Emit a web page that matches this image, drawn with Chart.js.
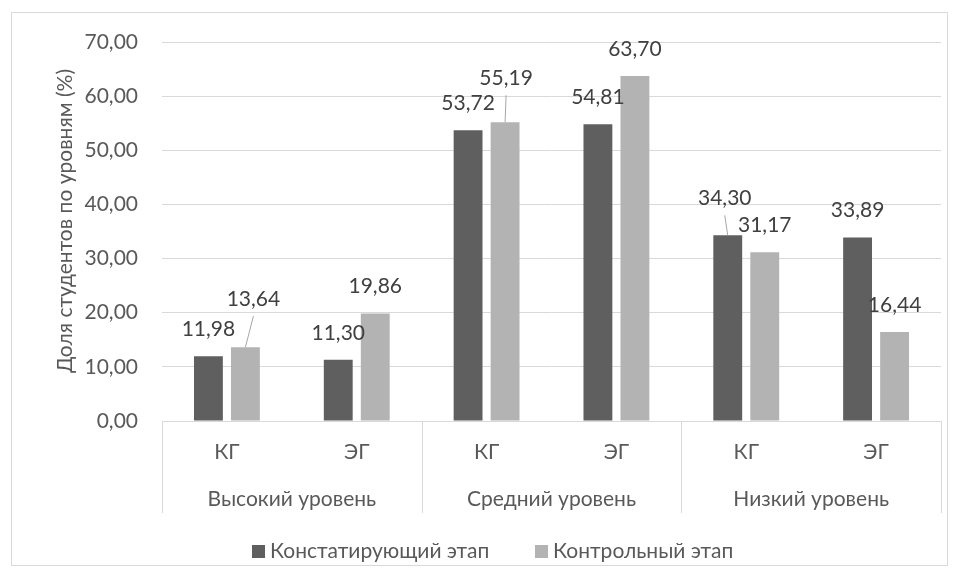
<!DOCTYPE html>
<html>
<head>
<meta charset="utf-8">
<script src="https://cdn.jsdelivr.net/npm/chart.js@4.4.1/dist/chart.umd.min.js"></script>
<style>
  html, body { margin: 0; padding: 0; background: #fff; }
  #wrap { width: 959px; height: 578px; position: relative; }
</style>
</head>
<body>
<div id="wrap"><canvas id="myChart"></canvas></div>
<script>
  const categories = ['КГ', 'ЭГ', 'КГ', 'ЭГ', 'КГ', 'ЭГ'];
  const groups = ['Высокий уровень', 'Средний уровень', 'Низкий уровень'];
  const seriesNames = ['Констатирующий этап', 'Контрольный этап'];
  const ascertainingStage = [11.98, 11.30, 53.72, 54.81, 34.30, 33.89];
  const controlStage = [13.64, 19.86, 55.19, 63.70, 31.17, 16.44];
  const yMax = 70;
  const yStep = 10;

  const FONT = 'Lato, "Noto Sans", sans-serif';
  const TEXT = '#595959';
  const LABEL = '#404040';
  const LINE = '#d9d9d9';
  const colors = ['#5f5f5f', '#b3b3b3'];

  function fmt(v) {
    return v.toFixed(2).replace('.', ',');
  }

  // labels that Excel pushed aside get a leader line (dataset, index, dx, dy)
  const movedLabels = [
    { ds: 1, i: 0, dx: 8, dy: -48 },
    { ds: 1, i: 2, dx: 1, dy: -44 },
    { ds: 0, i: 4, dx: -3, dy: -37 }
  ];

  const extras = {
    id: 'extras',
    afterDraw(chart) {
      const ctx = chart.ctx;
      const x = chart.scales.x;
      const area = chart.chartArea;
      ctx.save();

      // chart border
      ctx.strokeStyle = LINE;
      ctx.lineWidth = 1;
      ctx.strokeRect(11.5, 12.5, 936, 553);

      // two level category axis
      const per = categories.length / groups.length;
      const half = (x.getPixelForValue(1) - x.getPixelForValue(0)) / 2;
      ctx.beginPath();
      for (let g = 0; g <= groups.length; g++) {
        const px = g < groups.length
          ? x.getPixelForValue(g * per) - half
          : x.getPixelForValue(categories.length - 1) + half;
        ctx.moveTo(Math.round(px) + 0.5, area.bottom);
        ctx.lineTo(Math.round(px) + 0.5, area.bottom + 92);
      }
      ctx.stroke();

      ctx.fillStyle = TEXT;
      ctx.font = '21px ' + FONT;
      ctx.textAlign = 'center';
      ctx.textBaseline = 'middle';
      categories.forEach((c, i) => {
        ctx.fillText(c, x.getPixelForValue(i), area.bottom + 31);
      });
      groups.forEach((g, k) => {
        const a = x.getPixelForValue(k * per);
        const b = x.getPixelForValue(k * per + per - 1);
        ctx.fillText(g, (a + b) / 2, area.bottom + 78);
      });

      // data labels
      ctx.fillStyle = LABEL;
      chart.data.datasets.forEach((ds, d) => {
        const meta = chart.getDatasetMeta(d);
        meta.data.forEach((bar, i) => {
          const mv = movedLabels.find(m => m.ds === d && m.i === i);
          const dx = mv ? mv.dx : 0;
          const dy = mv ? mv.dy : -27;
          const lx = bar.x + dx;
          const ly = bar.y + dy;
          if (mv) {
            ctx.strokeStyle = '#a6a6a6';
            ctx.beginPath();
            ctx.moveTo(bar.x, bar.y);
            ctx.lineTo(lx, ly + 17);
            ctx.stroke();
          }
          ctx.fillText(fmt(ds.data[i]), lx, ly);
        });
      });

      // legend
      ctx.textAlign = 'left';
      const legendX = [252, 535];
      seriesNames.forEach((name, s) => {
        ctx.fillStyle = colors[s];
        ctx.fillRect(legendX[s], 545, 13, 13);
        ctx.fillStyle = TEXT;
        ctx.fillText(name, legendX[s] + 18, 551);
      });

      // y axis title
      ctx.save();
      ctx.translate(65, 221);
      ctx.rotate(-Math.PI / 2);
      ctx.textAlign = 'center';
      ctx.fillStyle = TEXT;
      ctx.fillText('Доля студентов по уровням (%)', 0, 0);
      ctx.restore();

      ctx.restore();
    }
  };

  const ctx = document.getElementById('myChart').getContext('2d');
  const myChart = new Chart(ctx, {
    type: 'bar',
    data: {
      labels: categories,
      datasets: [
        { label: seriesNames[0], data: ascertainingStage, backgroundColor: colors[0] },
        { label: seriesNames[1], data: controlStage, backgroundColor: colors[1] }
      ]
    },
    options: {
      responsive: true,
      maintainAspectRatio: false,
      animation: false,
      devicePixelRatio: 1,
      layout: { padding: { top: 42, right: 18, left: 0, bottom: 0 } },
      plugins: {
        legend: { display: false },
        tooltip: { enabled: false }
      },
      datasets: {
        bar: { categoryPercentage: 0.57, barPercentage: 0.78 }
      },
      scales: {
        x: {
          grid: { display: false },
          border: { display: true, color: LINE },
          ticks: { display: false },
          afterFit(scale) { scale.height = 157; }
        },
        y: {
          min: 0,
          max: yMax,
          ticks: {
            stepSize: yStep,
            padding: 24,
            color: TEXT,
            font: { family: FONT, size: 21 },
            callback: v => fmt(v)
          },
          grid: { color: LINE, drawTicks: false },
          border: { display: false },
          afterFit(scale) { scale.width = 162; }
        }
      }
    },
    plugins: [extras]
  });
</script>
</body>
</html>
